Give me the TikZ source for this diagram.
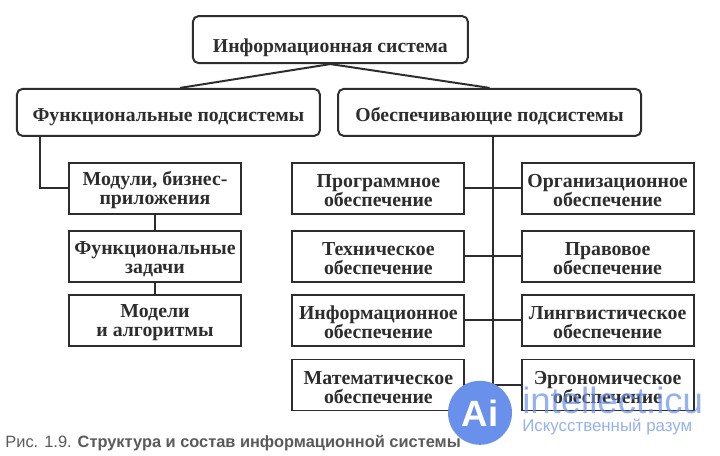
\documentclass[tikz,border=0pt]{standalone}
\usepackage{fontspec}
\setmainfont{Liberation Serif}
\newfontfamily\capfont{Liberation Sans}
\usepackage{xcolor}
\usetikzlibrary{calc}
\definecolor{boxline}{RGB}{45,45,45}
\definecolor{captext}{RGB}{90,90,90}
\definecolor{aiblue}{RGB}{105,145,235}
\tikzset{
  topblock/.style={draw=boxline,rounded corners=4pt,line width=1.4pt,minimum height=11.75mm,align=center,font=\fontsize{14}{15}\selectfont\bfseries,text=boxline},
  leafblock/.style={draw=boxline,line width=1.4pt,minimum height=12.75mm,minimum width=43mm,inner sep=1pt,text height=26.5pt,align=center,font=\fontsize{14.1}{13.5}\selectfont\bfseries,text=boxline},
  link/.style={draw=boxline,line width=1.4pt}
}
\begin{document}
\begin{tikzpicture}
\useasboundingbox (0,0) rectangle (18,11.4);
\fill[white] (0,0) rectangle (18,11.4);
% Top level
\node[topblock,minimum width=68.75mm,text height=21.5pt] (infosys) at (8.26,10.41) {Информационная система};
\node[topblock,minimum width=75.75mm,text height=15.5pt] (funcsub) at (4.21,8.59) {Функциональные подсистемы};
\node[topblock,minimum width=75.75mm,text height=15.5pt] (supsub) at (12.24,8.59) {Обеспечивающие подсистемы};
\coordinate (funcend) at ($(funcsub.north)+(0.29,0)$);
\draw[link] (funcend)--(infosys.south)--(supsub.north);
% Functional column
\node[leafblock] (modules) at (3.875,6.69) {Модули, бизнес-\\приложения};
\node[leafblock] (tasks) at (3.875,4.99) {Функциональные\\задачи};
\node[leafblock] (models) at (3.875,3.39) {Модели\\и алгоритмы};
\coordinate (funcdrop) at ($(funcsub.south west)+(0.6,0)$);
\draw[link] (funcdrop) |- (modules.west);
\draw[link] (modules)--(tasks);\draw[link] (tasks)--(models);
% Supporting columns
\node[leafblock] (soft) at (9.46,6.69) {Программное\\обеспечение};
\node[leafblock] (tech) at (9.46,4.99) {Техническое\\обеспечение};
\node[leafblock] (info) at (9.46,3.39) {Информационное\\обеспечение};
\node[leafblock] (math) at (9.46,1.775) {Математическое\\обеспечение};
\node[leafblock] (org) at (15.19,6.69) {Организационное\\обеспечение};
\node[leafblock] (legal) at (15.19,4.99) {Правовое\\обеспечение};
\node[leafblock] (ling) at (15.19,3.39) {Лингвистическое\\обеспечение};
\node[leafblock] (ergo) at (15.19,1.775) {Эргономическое\\обеспечение};
\coordinate (trunk) at ($(supsub.south)+(0.09,0)$);
\draw[link] (trunk)--(trunk |- ergo.west);
\draw[link] (soft)--(org);\draw[link] (tech)--(legal);
\draw[link] (info)--(ling);\draw[link] (math)--(ergo);
% Caption
\node[anchor=west,inner sep=0pt,text=captext,font=\capfont\fontsize{11.65}{13}\selectfont] (caption) at (0.13,0.31) {Рис. 1.9. \textbf{Структура и состав информационной системы}};
% Watermark
\node[circle,fill=aiblue,minimum size=16mm,inner sep=0pt,text=white,font=\capfont\fontsize{26}{26}\selectfont\bfseries] (ailogo) at (12,1.08) {Ai};
\node[anchor=west,inner sep=0pt,text=aiblue,opacity=0.7,font=\capfont\fontsize{26}{26}\selectfont] (aisite) at (13.05,1.4) {intellect.icu};
\node[anchor=west,inner sep=0pt,text=aiblue,opacity=0.7,font=\capfont\fontsize{12}{15}\selectfont] (aiword) at (13.05,0.72) {Искусственный разум};
\end{tikzpicture}
\end{document}
